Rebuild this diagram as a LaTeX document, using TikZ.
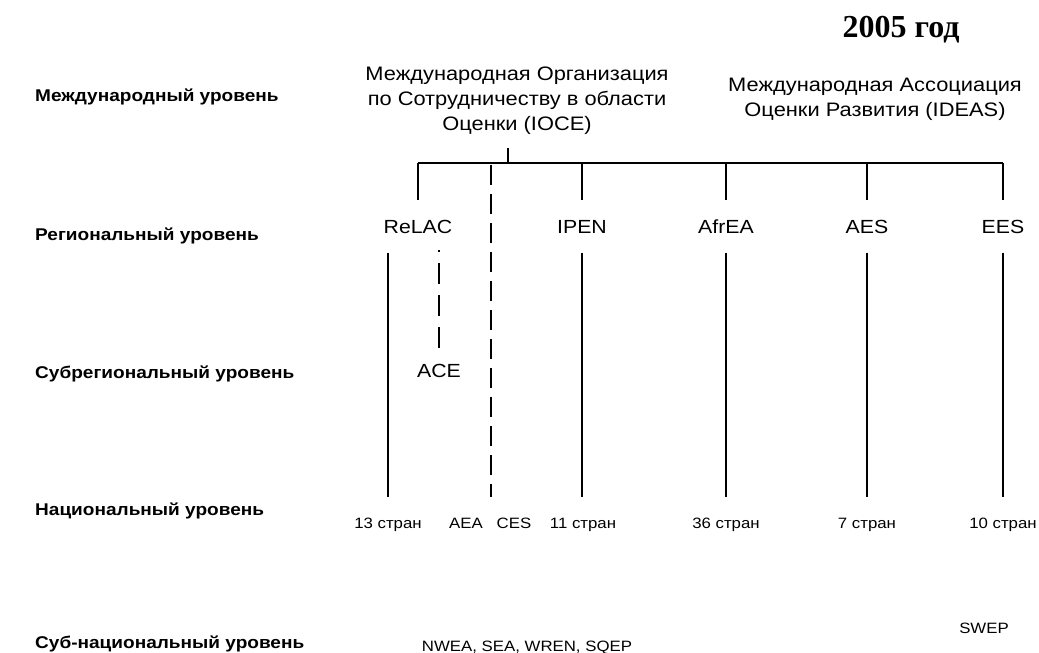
\documentclass[tikz,border=0pt]{standalone}
\usepackage{fontspec}
\setmainfont[FakeStretch=1.12]{Liberation Sans}
\newfontfamily\timesf{Liberation Serif}
\begin{document}
\begin{tikzpicture}[x=1pt,y=-1pt,
  lvl/.style={font=\fontsize{17}{20}\selectfont\bfseries, anchor=base west, inner sep=0pt},
  top/.style={font=\fontsize{19.5}{25}\selectfont, align=center, inner sep=0pt, anchor=north},
  reg/.style={font=\fontsize{19}{22}\selectfont, inner sep=0pt, text height=14pt, text depth=0pt, outer ysep=19.5pt, anchor=base},
  nat/.style={font=\fontsize{15}{18}\selectfont, inner sep=0pt, anchor=base},
  ln/.style={line width=2.6pt},
  dln/.style={line width=2.6pt, dash pattern=on 20pt off 9pt}
]
\useasboundingbox (0,0) rectangle (1039,653);
% title
\node[font=\timesf\fontsize{32}{36}\selectfont\bfseries, inner sep=0pt, anchor=base] (year) at (901,37) {2005 год};
% level labels
\node[lvl] (l1) at (35,101) {Международный уровень};
\node[lvl] (l2) at (35,240) {Региональный уровень};
\node[lvl] (l3) at (35,378) {Субрегиональный уровень};
\node[lvl] (l4) at (35,515) {Национальный уровень};
\node[lvl] (l5) at (35,648) {Суб-национальный уровень};
% top organisations
\node[top] (ioce) at (517,67) {Международная Организация\\по Сотрудничеству в области\\Оценки (IOCE)};
\node[top] (ideas) at (875,78) {Международная Ассоциация\\Оценки Развития (IDEAS)};
% regional
\node[reg] (relac) at (418,233) {ReLAC};
\node[reg] (ipen) at (582,233) {IPEN};
\node[reg] (afrea) at (726,233) {AfrEA};
\node[reg] (aes) at (867,233) {AES};
\node[reg] (ees) at (1003,233) {EES};
% subregional
\node[reg, outer ysep=15pt] (ace) at (439,377) {ACE};
% national
\node[nat] (n13) at (388,528) {13 стран};
\node[nat] (aea) at (466,528) {AEA};
\node[nat] (ces) at (514,528) {CES};
\node[nat] (n11) at (583,528) {11 стран};
\node[nat] (n36) at (726,528) {36 стран};
\node[nat] (n7) at (867,528) {7 стран};
\node[nat] (n10) at (1003,528) {10 стран};
% subnational
\node[nat] (nwea) at (527,651) {NWEA, SEA, WREN, SQEP};
\node[nat] (swep) at (984,633) {SWEP};
% tree
\coordinate (stub) at (508,148);
\coordinate (barmid) at (508,163);
\coordinate (barL) at (418,163);
\coordinate (barR) at (1003,163);
\draw[ln] (stub) -- (barmid);
\draw[ln] (barL) -- (barR);
\draw[ln] (barL) -- (relac.north);
\draw[ln] (barR) -- (ees.north);
\foreach \n in {ipen,afrea,aes} \draw[ln] (\n.north |- barL) -- (\n.north);
% lines down to national level
\coordinate (relacbot) at (388,497);
\draw[ln] (relacbot |- relac.south) -- (relacbot);
\foreach \n in {ipen,afrea,aes,ees} \draw[ln] (\n.south) -- (\n.south |- relacbot);
% dashed
\coordinate (dtop) at (491,165);
\coordinate (dbot) at (491,497);
\coordinate (acetop) at (439,250);
\draw[dln] (dtop) -- (dbot);
\draw[ln, dash pattern=on 21pt off 11pt] (ace.north) -- (acetop);
\end{tikzpicture}
\end{document}
